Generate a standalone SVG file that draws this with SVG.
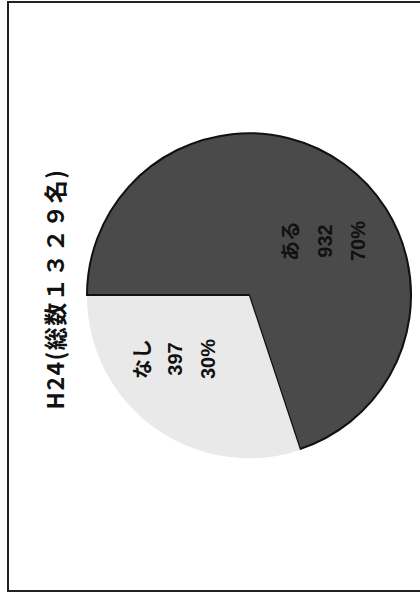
<svg xmlns="http://www.w3.org/2000/svg" width="420" height="596" viewBox="0 0 420 596">
  <style>
    .frame { fill: none; stroke: #222; stroke-width: 2; }
    .dark { fill: #4a4a4a; stroke: #111; stroke-width: 2; stroke-linejoin: miter; }
    .light { fill: #e9e9e9; stroke: none; }
    .title { font-family: "Noto Sans CJK JP", sans-serif; font-size: 23px; font-weight: bold; letter-spacing: 1.5px; fill: #111; }
    .lbl { font-family: "Liberation Sans", "Noto Sans CJK JP", sans-serif; font-size: 20px; font-weight: bold; fill: #111; text-anchor: middle; dominant-baseline: central; }
  </style>
  <rect width="420" height="596" fill="#ffffff"/>
  <g id="frame">
    <path class="frame" d="M422,2 L8,2 L8,591 L422,591"/>
  </g>
  <g id="title">
    <text class="title" transform="translate(54,289) rotate(-90)" text-anchor="middle" dominant-baseline="central">H24(総数１３２９名)</text>
  </g>
  <g id="slice-aru">
    <path class="dark" d="M249,295 L87,295 A162,162 0 1 1 300,449 Z"/>
    <g transform="translate(0,241)">
      <text class="lbl" transform="translate(291,0) rotate(-90)">ある</text>
      <text class="lbl" transform="translate(325,0) rotate(-90)">932</text>
      <text class="lbl" transform="translate(358,0) rotate(-90)">70%</text>
    </g>
  </g>
  <g id="slice-nai">
    <path class="light" d="M249,296 L300,450 A162,162 0 0 1 87,296 Z"/>
    <g transform="translate(0,359)">
      <text class="lbl" transform="translate(143,0) rotate(-90)">なし</text>
      <text class="lbl" transform="translate(175,0) rotate(-90)">397</text>
      <text class="lbl" transform="translate(208,0) rotate(-90)">30%</text>
    </g>
  </g>
  <g id="connectors"></g>
</svg>
